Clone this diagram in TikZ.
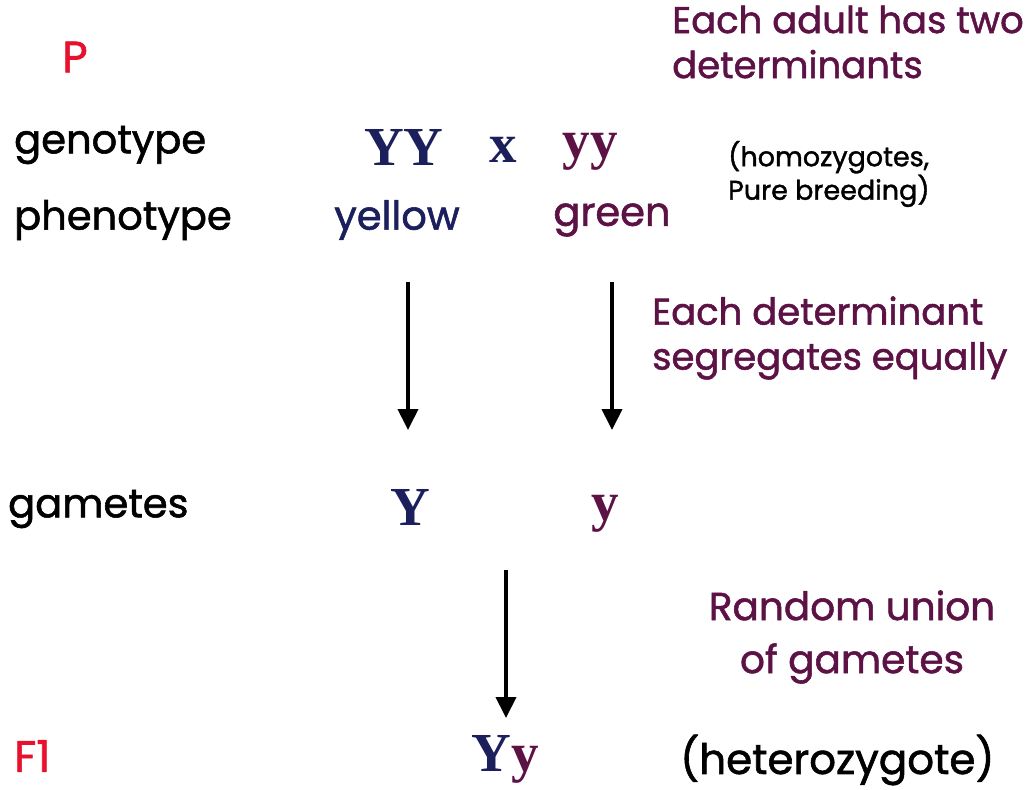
\documentclass[tikz,border=0pt]{standalone}
\usepackage{fontspec}
\setmainfont{Poppins}[FakeBold=1.4]
\newfontfamily\allelefont{Liberation Serif}
\usetikzlibrary{arrows.meta}
\definecolor{navy}{HTML}{1B1F5C}
\definecolor{plum}{HTML}{5C1245}
\definecolor{gen}{HTML}{E8112D}
\tikzset{
  lbl/.style    = {anchor=west, inner sep=0pt, font=\fontsize{40}{44}\selectfont},
  gen/.style    = {lbl, text=gen, font=\fontsize{44}{44}\selectfont},
  note/.style   = {anchor=west, inner sep=0pt, text=plum, align=left,
                   font=\fontsize{37}{45}\selectfont},
  allele/.style = {inner sep=0pt, font=\fontsize{55}{55}\selectfont\allelefont\bfseries},
  down/.style   = {-{Triangle[length=21pt,width=20pt]}, line width=4pt},
}
\begin{document}
\begin{tikzpicture}[x=1pt,y=-1pt]
  \useasboundingbox (0,0) rectangle (1032,789);
  % generations
  \node[gen] (P)  at (62,57)  {P};
  \node[gen] (F1) at (14,756) {F1};
  % row labels
  \node[lbl] (geno)  at (14,145) {genotype};
  \node[lbl] (pheno) at (14,220) {phenotype};
  \node[lbl] (gam)   at (8,509)  {gametes};
  % parents
  \node[allele,text=navy] (YY)    at (404,147) {YY};
  \node[allele,text=navy] (cross) at (503,150) {x};
  \node[allele,text=plum] (yy)    at (590,152) {yy};
  \node[lbl,anchor=center,text=navy] (yellow) at (397,220) {yellow};
  \node[lbl,anchor=center,text=plum] (green)  at (612,220) {green};
  % gametes and offspring
  \node[allele,text=navy] (gY) at (410,507) {Y};
  \node[allele,text=plum] (gy) at (605,514) {y};
  \node[allele] (Yy) at (505,759) {\textcolor{navy}{Y}\textcolor{plum}{y}};
  % notes
  \node[note] (adult) at (672,42) {Each adult has two\\determinants};
  \node[anchor=west,inner sep=0pt,align=left,font=\fontsize{27}{32}\selectfont]
    (homo) at (728,174) {(homozygotes,\\Pure breeding)};
  \node[note] (segr) at (652,338) {Each determinant\\segregates equally};
  \node[note,align=center,anchor=center,font=\fontsize{39}{53}\selectfont]
    (union) at (852,637) {Random union\\of gametes};
  \node[lbl,font=\fontsize{42}{44}\selectfont] (hetero) at (680,760) {(heterozygote)};
  % arrows
  \coordinate (a1) at (408,282);
  \coordinate (a2) at (612,282);
  \coordinate (a3) at (506,570);
  \draw[down] (a1) -- (a1 |- 0,430);
  \draw[down] (a2) -- (a2 |- 0,430);
  \draw[down] (a3) -- (a3 |- 0,718);
\end{tikzpicture}
\end{document}
